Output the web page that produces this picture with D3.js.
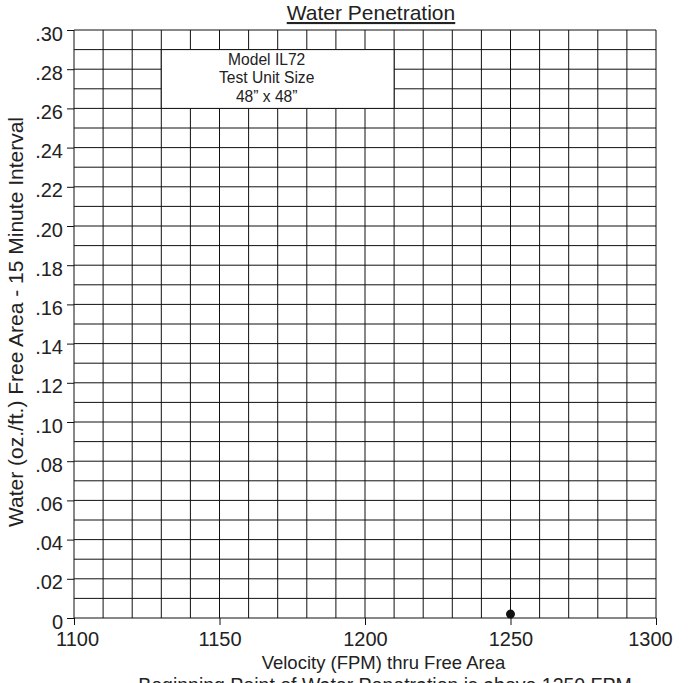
<!DOCTYPE html>
<html>
<head>
<meta charset="utf-8">
<script src="https://cdn.jsdelivr.net/npm/d3@7"></script>
<style>
  body { margin: 0; background: #fff; }
  text { font-family: "Liberation Sans", Arial, sans-serif; fill: #222; }
</style>
</head>
<body>
<div id="vis"></div>
<script>
// chart values
const xTicks = [1100, 1150, 1200, 1250, 1300]
const yTicks = [0, 0.02, 0.04, 0.06, 0.08, 0.10, 0.12, 0.14, 0.16, 0.18, 0.20, 0.22, 0.24, 0.26, 0.28, 0.30]
const velocity = [1250]
const water = [0.002]
const boxLines = ['Model IL72', 'Test Unit Size', '48\u201D x 48\u201D']
const boxExtent = {x0: 1130, x1: 1210, y0: 0.26, y1: 0.29}

const margin = {top: 30, right: 32, bottom: 65, left: 74}
const width = 688 - margin.left - margin.right
const height = 683 - margin.top - margin.bottom

const svg = d3.select('#vis')
    .append('svg')
    .attr('width', 688)
    .attr('height', 683)
    .append('g')
    .attr('transform', `translate(${margin.left},${margin.top})`)

const xScale = d3.scaleLinear().domain([1100, 1300]).range([0, width])
const yScale = d3.scaleLinear().domain([0, 0.30]).range([height, 0])

// grid: every 10 FPM and every .01
const grid = svg.append('g').attr('stroke', '#111').attr('stroke-width', 1)
grid.selectAll('.vg')
    .data(d3.range(1100, 1301, 10))
    .join('line')
    .attr('x1', d => xScale(d)).attr('x2', d => xScale(d))
    .attr('y1', 0).attr('y2', height)
grid.selectAll('.hg')
    .data(d3.range(0, 31).map(i => i / 100))
    .join('line')
    .attr('x1', 0).attr('x2', width)
    .attr('y1', d => yScale(d)).attr('y2', d => yScale(d))

// info box covers the grid
svg.append('rect')
    .attr('x', xScale(boxExtent.x0))
    .attr('y', yScale(boxExtent.y1))
    .attr('width', xScale(boxExtent.x1) - xScale(boxExtent.x0))
    .attr('height', yScale(boxExtent.y0) - yScale(boxExtent.y1))
    .attr('fill', '#fff')
    .attr('stroke', '#111')

svg.selectAll('.boxtxt')
    .data(boxLines)
    .join('text')
    .attr('x', (xScale(boxExtent.x0) + xScale(boxExtent.x1)) / 2 - 11)
    .attr('y', (d, i) => yScale(boxExtent.y1) + 15 + i * 18.5)
    .attr('text-anchor', 'middle')
    .attr('font-size', 15.6)
    .text(d => d)

// axes
const yAxis = d3.axisLeft(yScale)
    .tickValues(yTicks)
    .tickSize(7)
    .tickFormat(d => d === 0 ? '0' : d3.format('.2f')(d).slice(1))
const xAxis = d3.axisBottom(xScale)
    .tickValues(xTicks)
    .tickSize(7)
    .tickFormat(d3.format('d'))

const gy = svg.append('g').call(yAxis)
gy.select('.domain').remove()
gy.selectAll('line').attr('stroke', '#111')
gy.selectAll('text').attr('font-size', 20).attr('x', -11).attr('dy', '0.5em')
    .style('font-family', '"Liberation Sans", Arial, sans-serif').attr('fill', '#222')

const gx = svg.append('g').attr('transform', `translate(0,${height})`).call(xAxis)
gx.select('.domain').remove()
gx.selectAll('line').attr('stroke', '#111')
gx.selectAll('text').attr('font-size', 20).attr('y', 14)
    .attr('x', (d, i) => i === 0 ? 3 : (i === xTicks.length - 1 ? -6 : 0))
    .style('font-family', '"Liberation Sans", Arial, sans-serif').attr('fill', '#222')

// the point
svg.selectAll('.pt')
    .data(velocity.map((v, i) => ({v, w: water[i]})))
    .join('circle')
    .attr('cx', d => xScale(d.v))
    .attr('cy', d => yScale(d.w))
    .attr('r', 4.5)
    .attr('fill', '#111')

// title
svg.append('text')
    .attr('x', 297)
    .attr('y', -10)
    .attr('text-anchor', 'middle')
    .attr('font-size', 21)
    .attr('text-decoration', 'underline')
    .text('Water Penetration')

// axis labels
svg.append('text')
    .attr('x', 309.5)
    .attr('y', height + 51)
    .attr('text-anchor', 'middle')
    .attr('font-size', 18.5)
    .text('Velocity (FPM) thru Free Area')

svg.append('text')
    .attr('x', 311)
    .attr('y', height + 74)
    .attr('text-anchor', 'middle')
    .attr('font-size', 19.5)
    .text('Beginning Point of Water Penetration is above 1250 FPM')

svg.append('text')
    .attr('transform', 'rotate(-90)')
    .attr('x', -292)
    .attr('y', -51)
    .attr('text-anchor', 'middle')
    .attr('font-size', 21)
    .text('Water (oz./ft.) Free Area - 15 Minute Interval')
</script>
</body>
</html>
